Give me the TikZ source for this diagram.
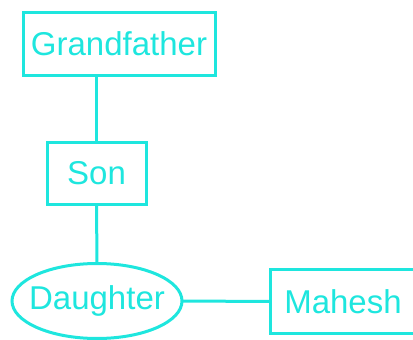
\documentclass[tikz,border=0pt]{standalone}
\usepackage{fontspec}
\setmainfont{Liberation Sans}
\usetikzlibrary{shapes.geometric}
\definecolor{cy}{RGB}{30,230,222}
\begin{document}
\begin{tikzpicture}[x=1pt,y=-1pt,
  box/.style={draw=cy,line width=3pt,inner sep=0pt,outer sep=0pt,text=cy,font=\fontsize{33}{36}\selectfont},
  rbox/.style={box,rectangle},
  ebox/.style={box,ellipse},
  link/.style={draw=cy,line width=3pt}]
\useasboundingbox (0,0) rectangle (413,340);
\node[rbox,minimum width=192pt,minimum height=63pt] (g) at (119,43.5) {Grandfather};
\node[rbox,minimum width=99pt,minimum height=62pt] (s) at (96.5,173) {Son};
\node[ebox,minimum width=170pt,minimum height=75pt] (d) at (97,301) {\makebox[0pt]{Daughter}};
\node[rbox,minimum width=146pt,minimum height=64pt] (m) at (343,301.5) {Mahesh};
\draw[link] (s.north) -- (s.north |- g.south);
\draw[link] (s.south) -- (d.north);
\draw[link] (d.east) -- (m.west);
\end{tikzpicture}
\end{document}
